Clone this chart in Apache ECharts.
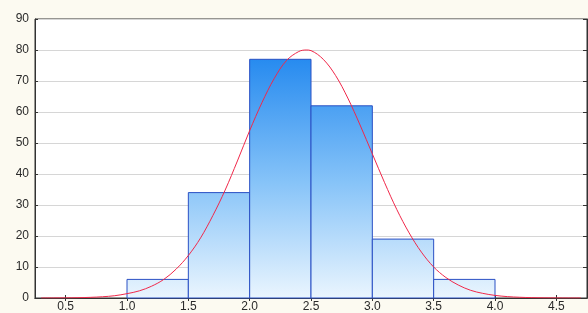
<!DOCTYPE html>
<html>
<head>
<meta charset="utf-8">
<script src="https://cdn.jsdelivr.net/npm/echarts@6/dist/echarts.min.js"></script>
<style>
  html, body { margin: 0; padding: 0; background: #fcfaf1; }
  #chart { width: 588px; height: 313px; }
</style>
</head>
<body>
<div id="chart"></div>
<script>
// histogram bins
var binStart = [1.0, 1.5, 2.0, 2.5, 3.0, 3.5];
var binEnd = [1.5, 2.0, 2.5, 3.0, 3.5, 4.0];
var counts = [6, 34, 77, 62, 19, 6];

// fitted normal curve
var curveX = [0.3, 0.4, 0.5, 0.6, 0.7, 0.8, 0.9, 1.0, 1.1, 1.2, 1.3, 1.4, 1.5, 1.6, 1.7, 1.8, 1.9,
    2.0, 2.1, 2.2, 2.3, 2.4, 2.46, 2.5, 2.6, 2.7, 2.8, 2.9, 3.0, 3.1, 3.2, 3.3, 3.4, 3.5, 3.6, 3.7,
    3.8, 3.9, 4.0, 4.1, 4.2, 4.3, 4.4, 4.5, 4.6, 4.7];
var curveY = [0.01, 0.02, 0.05, 0.1, 0.21, 0.4, 0.74, 1.4, 2.3, 3.8, 6.0, 9.3, 13.7, 19.4, 26.6, 34.8, 44.2,
    54.0, 63.0, 70.8, 76.6, 79.5, 80.0, 79.8, 77.0, 71.8, 64.5, 55.8, 46.5, 37.2, 28.5, 21.0, 14.8, 10.0, 6.6, 4.2,
    2.5, 1.5, 0.84, 0.45, 0.24, 0.12, 0.06, 0.03, 0.01, 0.005];

// ticks
var xTicks = [0.5, 1.0, 1.5, 2.0, 2.5, 3.0, 3.5, 4.0, 4.5];

var chart = echarts.init(document.getElementById('chart'));

var labelFont = {
    color: '#2a2a2a',
    fontSize: 12,
    fontFamily: 'Liberation Sans, Arial, sans-serif'
};

var option = {
    backgroundColor: '#fcfaf1',
    animation: false,
    grid: {
        left: 35,
        right: 1,
        top: 19,
        bottom: 15,
        show: true,
        backgroundColor: '#ffffff',
        borderColor: '#333333',
        borderWidth: 1
    },
    xAxis: [{
        type: 'value',
        min: 0.25,
        max: 4.75,
        axisLine: { lineStyle: { color: '#333333' } },
        axisTick: { inside: true, length: 3, customValues: xTicks, lineStyle: { color: '#333333' } },
        axisLabel: Object.assign({ customValues: xTicks, margin: 3, formatter: function (v) { return v.toFixed(1); } }, labelFont),
        splitLine: { show: false }
    }, {
        type: 'value',
        position: 'top',
        min: 0.25,
        max: 4.75,
        axisLine: { lineStyle: { color: '#333333' } },
        axisTick: { inside: true, length: 3, customValues: xTicks, lineStyle: { color: '#333333' } },
        axisLabel: { show: false },
        splitLine: { show: false }
    }],
    yAxis: [{
        type: 'value',
        min: 0,
        max: 90,
        interval: 10,
        axisLine: { show: true, lineStyle: { color: '#333333' } },
        axisTick: { show: true, inside: true, length: 3, lineStyle: { color: '#333333' } },
        axisLabel: Object.assign({ margin: 6 }, labelFont),
        splitLine: { show: true, lineStyle: { color: '#d6d6d6', width: 1 } }
    }, {
        type: 'value',
        position: 'right',
        min: 0,
        max: 90,
        interval: 10,
        axisLine: { show: true, lineStyle: { color: '#333333' } },
        axisTick: { show: true, inside: true, length: 4, lineStyle: { color: '#333333' } },
        axisLabel: { show: false },
        splitLine: { show: false }
    }],
    series: [{
        type: 'custom',
        xAxisIndex: 0,
        yAxisIndex: 0,
        data: counts.map(function (c, i) {
            return [binStart[i], binEnd[i], c];
        }),
        renderItem: function (params, api) {
            var p0 = api.coord([api.value(0), api.value(2)]);
            var p1 = api.coord([api.value(1), 0]);
            return {
                type: 'rect',
                shape: { x: p0[0], y: p0[1], width: p1[0] - p0[0], height: p1[1] - p0[1] },
                style: {
                    fill: new echarts.graphic.LinearGradient(0, 40, 0, 298, [
                        { offset: 0, color: '#1882ee' },
                        { offset: 0.55, color: '#86c3f8' },
                        { offset: 1, color: '#eaf5fe' }
                    ], true),
                    stroke: '#2a50c4',
                    lineWidth: 1
                }
            };
        },
        z: 2
    }, {
        type: 'line',
        xAxisIndex: 0,
        yAxisIndex: 0,
        data: curveX.map(function (x, i) {
            return [x, curveY[i]];
        }),
        smooth: 0.35,
        showSymbol: false,
        lineStyle: { color: '#f0284a', width: 1 },
        z: 3
    }]
};

chart.setOption(option);
</script>
</body>
</html>
